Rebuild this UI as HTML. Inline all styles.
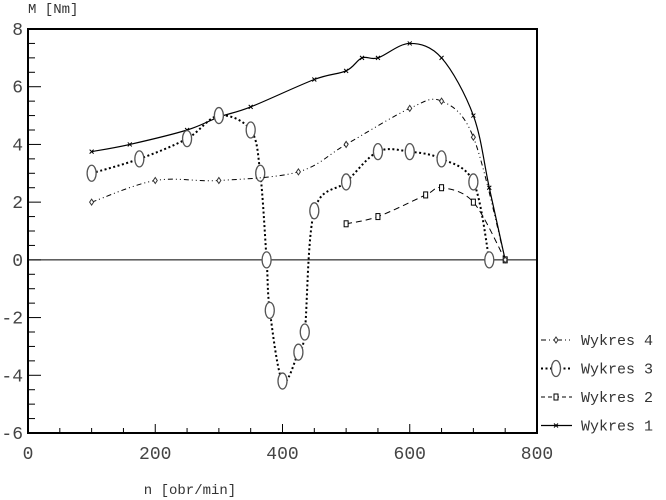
<!DOCTYPE html>
<html><head><meta charset="utf-8"><style>
body{margin:0;background:#fff}
svg{display:block;font-family:"Liberation Mono",monospace}
</style></head><body>
<svg id="c" width="666" height="500" viewBox="0 0 666 500">
<text x="28" y="13" font-size="14" fill="#333">M [Nm]</text>
<text x="190" y="494" font-size="14" fill="#333" text-anchor="middle">n [obr/min]</text>
<g id="ax"></g><g id="series"></g><g id="legend"></g>
</svg>
<script>
const xTicks=[0,200,400,600,800];
const yTicks=[8,6,4,2,0,-2,-4,-6];
const names=["Wykres 1","Wykres 2","Wykres 3","Wykres 4"];
const s1x=[100,160,250,300,350,450,500,525,550,600,650,700,725,750];
const s1y=[3.75,4.0,4.5,4.95,5.3,6.25,6.55,7.0,7.0,7.5,7.0,5.0,2.5,0];
const s2x=[500,550,625,650,700,750];
const s2y=[1.25,1.5,2.25,2.5,2.0,0];
const s3x=[100,175,250,300,350,365,375,380,400,425,435,450,500,550,600,650,700,725];
const s3y=[3.0,3.5,4.2,5.0,4.5,3.0,0,-1.75,-4.2,-3.2,-2.5,1.7,2.7,3.75,3.75,3.5,2.7,0];
const s4x=[100,200,300,425,500,600,650,700,750];
const s4y=[2.0,2.75,2.75,3.05,4.0,5.25,5.5,4.25,0];
const L=28,R=537,T=29,B=433;
const X=v=>L+(v-0)/800*(R-L);
const Y=v=>B-(v+6)/14*(B-T);
const NS="http://www.w3.org/2000/svg";
function mk(t,a,p){const e=document.createElementNS(NS,t);for(const k in a)e.setAttribute(k,a[k]);p.appendChild(e);return e;}
const ax=document.getElementById('ax');
let fr=mk('rect',{x:L,y:T,width:R-L,height:B-T,fill:'none',stroke:'#000','stroke-width':2},ax);


let zl=mk('line',{x1:L,x2:R,y1:Y(0),y2:Y(0),stroke:'#000','stroke-width':1},ax);


for(let v=-6;v<=8;v+=0.5){const maj=v%2===0;mk('line',{x1:L,x2:L+(maj?13:7),y1:Y(v),y2:Y(v),stroke:'#000'},ax);}
for(let v=0;v<=800;v+=50){const maj=v%200===0;if(v>0&&v<800)mk('line',{x1:X(v),x2:X(v),y1:B,y2:B-(maj?9:5),stroke:'#000'},ax);}
yTicks.forEach(v=>{const t=mk('text',{x:L-5,y:Y(v)+6,'font-size':18,fill:'#444','text-anchor':'end'},ax);t.textContent=v;

});
xTicks.forEach(v=>{const t=mk('text',{x:X(v),y:B+26,'font-size':18,fill:'#444','text-anchor':'middle'},ax);t.textContent=v;

});
function path(xs,ys){const p=xs.map((x,i)=>[X(x),Y(ys[i])]);let d=`M${p[0][0]},${p[0][1]}`;
for(let i=0;i<p.length-1;i++){const p0=p[i-1]||p[i],p1=p[i],p2=p[i+1],p3=p[i+2]||p2;
d+=`C${p1[0]+(p2[0]-p0[0])/6},${p1[1]+(p2[1]-p0[1])/6} ${p2[0]-(p3[0]-p1[0])/6},${p2[1]-(p3[1]-p1[1])/6} ${p2[0]},${p2[1]}`;}return d;}
const sg=document.getElementById('series');
function marker(kind,x,y,g){
 if(kind==='x'){mk('path',{d:`M${x-2},${y-2}L${x+2},${y+2}M${x-2},${y+2}L${x+2},${y-2}`,stroke:'#000','stroke-width':1},g);}
 else if(kind==='sq'){mk('rect',{x:x-2,y:y-3,width:4,height:6,fill:'#fff',stroke:'#000'},g);}
 else if(kind==='o'){mk('ellipse',{cx:x,cy:y,rx:4.5,ry:8,fill:'#fff',stroke:'#555','stroke-width':1.3},g);}
 else {mk('path',{d:`M${x},${y-3}L${x+2},${y}L${x},${y+3}L${x-2},${y}Z`,fill:'#fff',stroke:'#333'},g);}
}
const defs=[[s1x,s1y,'none','x','series-wykres-1',1.2],[s2x,s2y,'6,4','sq','series-wykres-2',1],[s3x,s3y,'2,2.5','o','series-wykres-3',2],[s4x,s4y,'5,3,1,3,1,3','d','series-wykres-4',1]];
defs.forEach(([xs,ys,da,mkr,nm,w])=>{const g=mk('g',{},sg);


const p=mk('path',{d:path(xs,ys),fill:'none',stroke:'#000','stroke-width':w,'stroke-dasharray':da},g);
xs.forEach((x,i)=>marker(mkr,X(x),Y(ys[i]),g));});
const lg=document.getElementById('legend');
const ld=[[3,'5,3,1,3,1,3','d',1],[2,'2,2.5','o',2],[1,'4,3','sq',1],[0,'none','x',1.2]];
ld.forEach(([idx,da,m,w],r)=>{const y=340+r*28.5;const g=mk('g',{},lg);


mk('line',{x1:541,x2:572,y1:y,y2:y,stroke:'#000','stroke-width':w,'stroke-dasharray':da},g);
marker(m,556,y,g);
const t=mk('text',{x:581,y:y+5,'font-size':15,fill:'#333'},g);t.textContent=names[idx];});
</script>
</body></html>
